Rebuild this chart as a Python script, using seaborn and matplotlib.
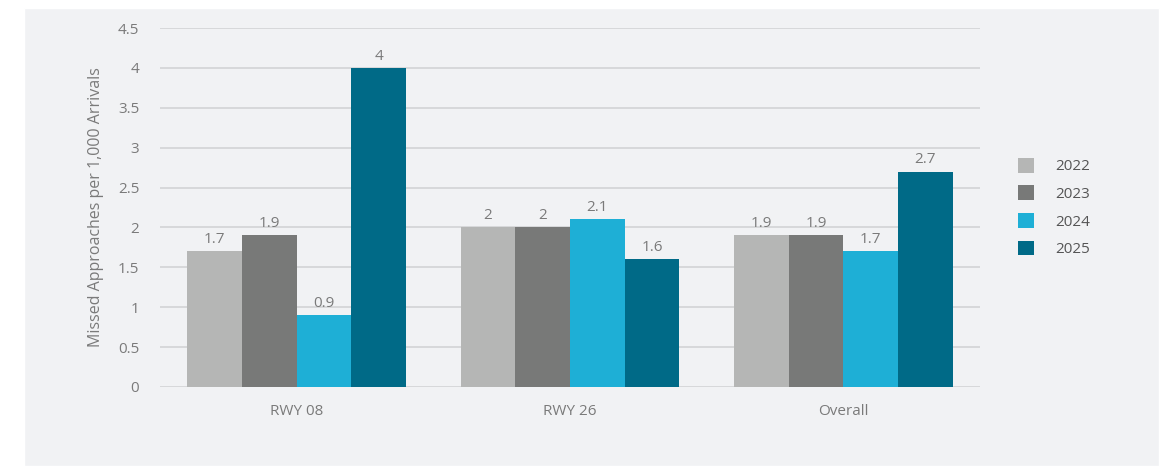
import pandas as pd
import matplotlib.pyplot as plt
import seaborn as sns

runways = ["RWY 08", "RWY 26", "Overall"]
years = ["2022", "2023", "2024", "2025"]
rates_2022 = [1.7, 2.0, 1.9]
rates_2023 = [1.9, 2.0, 1.9]
rates_2024 = [0.9, 2.1, 1.7]
rates_2025 = [4.0, 1.6, 2.7]
colors = ["#b5b6b5", "#787978", "#1eafd6", "#006a87"]

df = pd.DataFrame({
    "Runway": runways * 4,
    "Year": [y for y in years for _ in runways],
    "Rate": rates_2022 + rates_2023 + rates_2024 + rates_2025,
})

sns.set_style("white")
plt.rcParams["font.family"] = ["Open Sans", "DejaVu Sans"]
bg = "#f1f2f4"
txt = "#7a7a7a"

fig = plt.figure(figsize=(11.67, 4.66), dpi=100)
fig.patch.set_facecolor("white")
fig.patches.append(plt.Rectangle((24 / 1167, 0), (1159 - 24) / 1167, (466 - 8) / 466,
                                 transform=fig.transFigure, facecolor=bg, zorder=-1))
ax = fig.add_axes([160 / 1167, 1 - 387 / 466, (980 - 160) / 1167, (387 - 28) / 466])
ax.set_facecolor(bg)

sns.barplot(data=df, x="Runway", y="Rate", hue="Year", palette=colors,
            width=0.8, saturation=1, linewidth=0, ax=ax, zorder=3)

for c in ax.containers:
    ax.bar_label(c, labels=[f"{v:g}" for v in c.datavalues], padding=3,
                 color=txt, fontsize=11)

ax.set_ylim(0, 4.5)
ax.set_xlim(-0.5, 2.5)
ax.set_yticks([0, 0.5, 1, 1.5, 2, 2.5, 3, 3.5, 4, 4.5])
ax.set_yticklabels(["0", "0.5", "1", "1.5", "2", "2.5", "3", "3.5", "4", "4.5"])
ax.yaxis.grid(True, color="#d2d3d5", linewidth=1.2, zorder=0)
ax.set_axisbelow(True)
for s in ax.spines.values():
    s.set_visible(False)
ax.tick_params(axis="both", length=0, colors=txt, labelsize=11)
ax.tick_params(axis="y", pad=15)
ax.tick_params(axis="x", pad=12)
ax.set_xlabel("")
ax.set_ylabel("Missed Approaches per 1,000 Arrivals", color=txt, fontsize=11.5, labelpad=10)

leg = ax.legend(loc="center left", bbox_to_anchor=(1.029, 0.5), frameon=False,
                handlelength=1.1, handleheight=1.1, labelspacing=0.72,
                handletextpad=1.4, fontsize=11)
for t in leg.get_texts():
    t.set_color("#555555")

fig.savefig("out.png", dpi=100, facecolor="white")
